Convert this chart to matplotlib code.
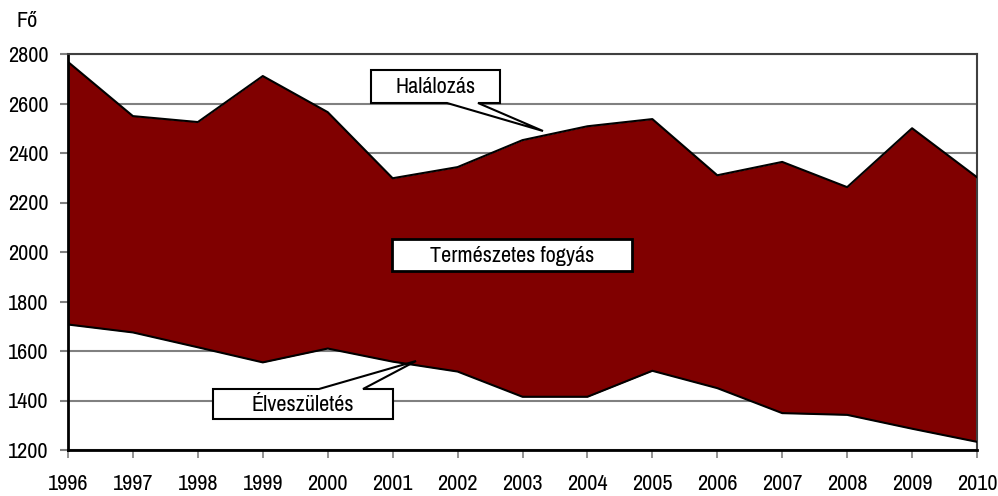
"""Births vs deaths (1996-2010) with the natural decrease shaded between them."""

import matplotlib.pyplot as plt
from matplotlib import font_manager
from matplotlib.patches import Polygon

years = list(range(1996, 2011))
deaths = [2768, 2549, 2525, 2711, 2565, 2298, 2343, 2452, 2508, 2537,
          2310, 2364, 2262, 2500, 2302]
births = [1707, 1675, 1615, 1554, 1610, 1557, 1517, 1415, 1415, 1520,
          1450, 1349, 1342, 1286, 1233]
y_ticks = list(range(1200, 2801, 200))

W, H = 998, 496
FILL = "#800000"

# the original uses a narrow Arial; pick a narrow grotesque if one is around
installed = {f.name for f in font_manager.fontManager.ttflist}
narrow = [n for n in ("Liberation Sans Narrow", "Arial Narrow",
                      "Archivo Narrow", "Roboto Condensed", "PT Sans Narrow")
          if n in installed]
if narrow:
    plt.rcParams["font.family"] = [narrow[0], "Liberation Sans", "DejaVu Sans"]
    FS = 16
else:
    plt.rcParams["font.family"] = ["Liberation Sans", "DejaVu Sans"]
    FS = 13


def px(points):
    """Pixel coords (origin top-left) -> figure fraction coords."""
    return [(x / W, 1 - y / H) for x, y in points]


fig = plt.figure(figsize=(W / 100, H / 100), dpi=100)
ax = fig.add_axes([68 / W, 1 - 450 / H, (977 - 68) / W, (450 - 54) / H])

ax.fill_between(years, births, deaths, color=FILL, linewidth=0, zorder=2)
ax.plot(years, deaths, color="black", linewidth=1.5, zorder=3)
ax.plot(years, births, color="black", linewidth=1.5, zorder=3)

ax.set_xlim(years[0], years[-1])
ax.set_ylim(y_ticks[0], y_ticks[-1])
ax.set_xticks(years)
ax.set_yticks(y_ticks)
ax.yaxis.grid(True, color="#808080", linewidth=1.5, zorder=1)
ax.set_axisbelow(True)

ax.tick_params(axis="y", length=6, width=1.5, color="#808080", pad=8,
               labelsize=FS)
ax.tick_params(axis="x", length=6, width=1.2, color="#808080", pad=11,
               labelsize=FS)
for side in ("left", "bottom"):
    ax.spines[side].set_color("black")
    ax.spines[side].set_linewidth(2)
for side in ("top", "right"):
    ax.spines[side].set_color("#404040")
    ax.spines[side].set_linewidth(1.5)

fig.text(16 / W, 1 - 21 / H, "Fő", fontsize=FS, va="center", ha="left")

# callout boxes
hal = Polygon(px([(371, 70), (500, 70), (500, 103), (478, 103), (543, 131),
                  (447, 103), (371, 103)]),
              closed=True, facecolor="white", edgecolor="black",
              linewidth=1.5, transform=fig.transFigure, zorder=5)
fig.patches.append(hal)
fig.text(435.5 / W, 1 - 87 / H, "Halálozás", fontsize=FS, ha="center",
         va="center", zorder=6)

elv = Polygon(px([(213, 389), (319, 389), (416, 361), (363, 389), (393, 389),
                  (393, 419), (213, 419)]),
              closed=True, facecolor="white", edgecolor="black",
              linewidth=1.5, transform=fig.transFigure, zorder=5)
fig.patches.append(elv)
fig.text(303 / W, 1 - 405 / H, "Élveszületés", fontsize=FS, ha="center",
         va="center", zorder=6)

ter = Polygon(px([(392, 239), (632, 239), (632, 271), (392, 271)]),
              closed=True, facecolor="white", edgecolor="black",
              linewidth=2, transform=fig.transFigure, zorder=5)
fig.patches.append(ter)
fig.text(512 / W, 1 - 256 / H, "Természetes fogyás", fontsize=FS,
         ha="center", va="center", zorder=6)

fig.savefig("out.png", dpi=100)
